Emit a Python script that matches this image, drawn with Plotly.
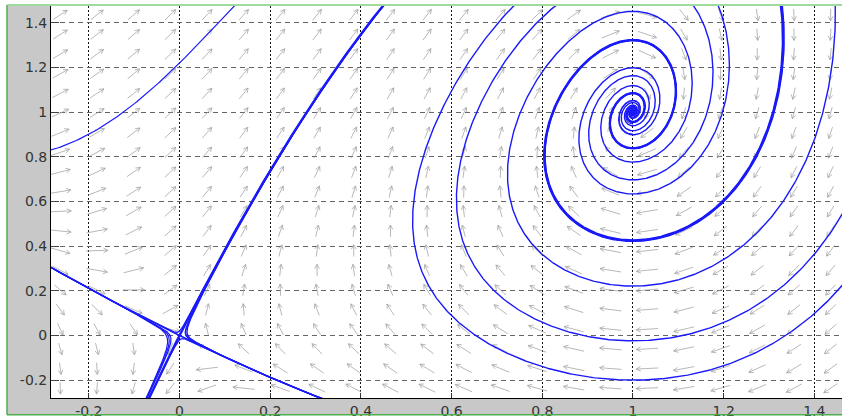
import numpy as np
import plotly.graph_objects as go

# Planar system  x' = y - x,  y' = GAIN*(1 - x)*(2x + y)
# saddle at (0, 0), stable focus at (1, 1)
GAIN = 2.0

X_RANGE = [-0.2835, 1.461]
Y_RANGE = [-0.28, 1.4756]

TICK_X = [-0.2, 0, 0.2, 0.4, 0.6, 0.8, 1.0, 1.2, 1.4]
TICK_X_TEXT = ["-0.2", "0", "0.2", "0.4", "0.6", "0.8", "1", "1.2", "1.4"]
TICK_Y = [-0.2, 0, 0.2, 0.4, 0.6, 0.8, 1.0, 1.2, 1.4]
TICK_Y_TEXT = ["-0.2", "0", "0.2", "0.4", "0.6", "0.8", "1", "1.2", "1.4"]

# starting points of the solution curves
SPIRAL_X = [1.0, 1.0, 1.0, 1.0]
SPIRAL_Y = [-0.2, -0.024, 0.221, 0.428]
INNER_X = [1.0, 1.0, 1.0]
INNER_Y = [0.902, 0.947, 0.97]
OUTER_X = [0.0]
OUTER_Y = [1.22]
NEAR_SADDLE_X = [-0.025, -0.03, -0.02, 0.018, 0.022, 0.015, 0.0, 0.0]
NEAR_SADDLE_Y = [0.0, 0.004, -0.004, -0.008, -0.01, -0.004, 0.02, -0.02]

# direction-field grid
FIELD_X0, FIELD_DX, FIELD_NX = -0.263, 0.0809, 22
FIELD_Y0, FIELD_DY, FIELD_NY = -0.236, 0.088, 20

# plot area in pixels
W, H = 842, 419
M_L, M_R, M_T, M_B = 51, 0, 6, 18
PW, PH = W - M_L - M_R, H - M_T - M_B
PX = PW / (X_RANGE[1] - X_RANGE[0])
PY = PH / (Y_RANGE[1] - Y_RANGE[0])

BOX = (-0.6, 2.0, -0.6, 2.4)
SPIRAL_BACK_BOX = (0.5, 2.0, -0.6, 2.4)


def field(x, y):
    return y - x, GAIN * (1.0 - x) * (2.0 * x + y)


def integrate(x0, y0, direction, t_end=26.0, dt=0.004, box=BOX):
    x = np.array(x0, float)
    y = np.array(y0, float)
    n = int(t_end / dt)
    X = np.full((n + 1, x.size), np.nan)
    Y = np.full((n + 1, x.size), np.nan)
    X[0], Y[0] = x, y
    alive = np.ones(x.size, bool)
    h = dt * direction
    for i in range(n):
        k1x, k1y = field(x, y)
        k2x, k2y = field(x + 0.5 * h * k1x, y + 0.5 * h * k1y)
        k3x, k3y = field(x + 0.5 * h * k2x, y + 0.5 * h * k2y)
        k4x, k4y = field(x + h * k3x, y + h * k3y)
        xn = x + h / 6.0 * (k1x + 2 * k2x + 2 * k3x + k4x)
        yn = y + h / 6.0 * (k1y + 2 * k2y + 2 * k3y + k4y)
        X[i + 1] = np.where(alive, xn, np.nan)
        Y[i + 1] = np.where(alive, yn, np.nan)
        out = (xn < box[0]) | (xn > box[1]) | (yn < box[2]) | (yn > box[3])
        done = np.hypot(xn - 1.0, yn - 1.0) < 3e-4
        alive = alive & ~out & ~done
        x = np.where(alive, xn, x)
        y = np.where(alive, yn, y)
        if not alive.any():
            break
    return X, Y


def both_ways(xs, ys, back_box=BOX):
    Xf, Yf = integrate(xs, ys, +1)
    Xb, Yb = integrate(xs, ys, -1, box=back_box)
    curves = []
    for k in range(len(xs)):
        bx, by = Xb[:, k], Yb[:, k]
        fx, fy = Xf[:, k], Yf[:, k]
        bx, by = bx[~np.isnan(bx)][::-1], by[~np.isnan(by)][::-1]
        fx, fy = fx[~np.isnan(fx)], fy[~np.isnan(fy)]
        curves.append((np.concatenate([bx, fx[1:]]), np.concatenate([by, fy[1:]])))
    return curves


def one_way(xs, ys, direction):
    X, Y = integrate(xs, ys, direction)
    out = []
    for k in range(len(xs)):
        cx, cy = X[:, k], Y[:, k]
        out.append((cx[~np.isnan(cx)], cy[~np.isnan(cy)]))
    return out


def join(curves):
    xs, ys = [], []
    for cx, cy in curves:
        xs.extend(cx.tolist()); xs.append(None)
        ys.extend(cy.tolist()); ys.append(None)
    return xs, ys


# separatrices of the saddle
jac = np.array([[-1.0, 1.0], [2.0 * GAIN, GAIN]])
vals, vecs = np.linalg.eig(jac)
eps = 1e-5
unst = vecs[:, np.argmax(vals)]
stab = vecs[:, np.argmin(vals)]
sep_u = one_way([eps * unst[0], -eps * unst[0]], [eps * unst[1], -eps * unst[1]], +1)
sep_s = one_way([eps * stab[0], -eps * stab[0]], [eps * stab[1], -eps * stab[1]], -1)

spirals = both_ways(SPIRAL_X, SPIRAL_Y, back_box=SPIRAL_BACK_BOX)
inner = one_way(INNER_X, INNER_Y, +1)
outer = both_ways(OUTER_X, OUTER_Y)
near = both_ways(NEAR_SADDLE_X, NEAR_SADDLE_Y)

# direction field arrows
gx = FIELD_X0 + FIELD_DX * np.arange(FIELD_NX)
gy = FIELD_Y0 + FIELD_DY * np.arange(FIELD_NY)
GX, GY = np.meshgrid(gx, gy)
U, V = field(GX, GY)
nrm = np.hypot(U / FIELD_DX, V / FIELD_DY)
nrm[nrm == 0] = 1
AX = 0.6 * U / nrm
AY = 0.6 * V / nrm
ax_x, ax_y = [], []
head = 5.0
ang = np.deg2rad(28)
for px0, py0, a, b in zip(GX.ravel(), GY.ravel(), AX.ravel(), AY.ravel()):
    tx, ty = px0 - a / 2, py0 - b / 2
    hx, hy = px0 + a / 2, py0 + b / 2
    sx, sy = a * PX, b * PY
    L = np.hypot(sx, sy) or 1.0
    dx, dy = sx / L, sy / L
    ax_x += [tx, hx, None]
    ax_y += [ty, hy, None]
    for s in (ang, -ang):
        rx = dx * np.cos(s) - dy * np.sin(s)
        ry = dx * np.sin(s) + dy * np.cos(s)
        ax_x += [hx - head * rx / PX, hx, None]
        ax_y += [hy - head * ry / PY, hy, None]

BLUE = "rgb(25,25,250)"
fig = go.Figure()
fig.add_trace(go.Scatter(x=ax_x, y=ax_y, mode="lines",
                         line=dict(color="rgba(160,160,160,0.75)", width=1),
                         hoverinfo="skip", showlegend=False))
for curves, w in ((spirals, 1.4), (inner, 1.0), (outer, 1.2), (near, 1.2),
                  (sep_u, 2.4), (sep_s, 1.6)):
    cx, cy = join(curves)
    fig.add_trace(go.Scatter(x=cx, y=cy, mode="lines",
                             line=dict(color=BLUE, width=w),
                             hoverinfo="skip", showlegend=False))

GREY = "#c8c8c8"
GREEN = "#4cae4c"
xl = (7 - M_L) / PW
yb = -(418 - (H - M_B)) / PH
yt = 1 + 1.0 / PH
shapes = [
    dict(type="rect", xref="paper", yref="paper", x0=xl, x1=0, y0=yb, y1=1,
         fillcolor=GREY, line=dict(width=0), layer="below"),
    dict(type="rect", xref="paper", yref="paper", x0=xl, x1=1.01, y0=yb, y1=0,
         fillcolor=GREY, line=dict(width=0), layer="below"),
    dict(type="line", xref="paper", yref="paper", x0=xl, x1=xl, y0=yb, y1=yt,
         line=dict(color=GREEN, width=1.5)),
    dict(type="line", xref="paper", yref="paper", x0=xl, x1=1.01, y0=yt, y1=yt,
         line=dict(color="#7fcf7f", width=1.5)),
    dict(type="line", xref="paper", yref="paper", x0=xl, x1=1.01, y0=yb, y1=yb,
         line=dict(color=GREEN, width=1.5)),
]

font = dict(family="DejaVu Sans, Arial, sans-serif", size=14, color="#333333")
fig.update_layout(
    width=W, height=H, autosize=False,
    margin=dict(l=M_L, r=M_R, t=M_T, b=M_B, pad=0),
    paper_bgcolor="white", plot_bgcolor="white",
    shapes=shapes,
    xaxis=dict(range=X_RANGE, tickvals=TICK_X, ticktext=TICK_X_TEXT,
               showgrid=True, gridcolor="#111111", gridwidth=1, griddash="2px,2px",
               zeroline=False, showline=True, linecolor="black", linewidth=1,
               ticks="inside", ticklen=5, tickcolor="#333333", tickfont=font),
    yaxis=dict(range=Y_RANGE, tickvals=TICK_Y, ticktext=TICK_Y_TEXT,
               showgrid=True, gridcolor="#666666", gridwidth=1, griddash="5px,4px",
               zeroline=False, showline=True, linecolor="black", linewidth=1,
               ticks="inside", ticklen=8, tickcolor="#444444", tickfont=font),
)

fig.write_html("out.html")
